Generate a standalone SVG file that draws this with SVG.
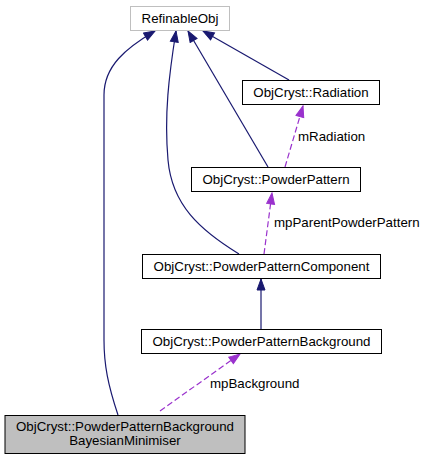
<svg xmlns="http://www.w3.org/2000/svg" width="426" height="459" viewBox="0 0 426 459">
<style>
.node rect{fill:#fff;stroke:#000;stroke-width:1}
text{font-family:"Liberation Sans",Arial,sans-serif;font-size:13.3px;fill:#000}
.c{text-anchor:middle}
.inh{fill:none;stroke:#191970;stroke-width:1.2}
.use{fill:none;stroke:#9a32cd;stroke-width:1.2;stroke-dasharray:6,3}
</style>
<defs>
<marker id="ah" markerUnits="userSpaceOnUse" markerWidth="14" markerHeight="10" viewBox="0 -5 12 10" refX="11" refY="0" orient="auto">
<path d="M0,-4 L11,0 L0,4 z" fill="#191970" stroke="#191970"/>
</marker>
<marker id="ap" markerUnits="userSpaceOnUse" markerWidth="14" markerHeight="10" viewBox="0 -5 12 10" refX="11" refY="0" orient="auto">
<path d="M0,-4 L11,0 L0,4 z" fill="#9a32cd" stroke="#9a32cd"/>
</marker>
</defs>
<rect width="426" height="459" fill="#fff"/>
<g id="connectors">
<path class="inh" marker-end="url(#ah)" d="M118,415 C108,385 104,365 104,340 L104,95 C104,66 126,48 155,31"/>
<path class="inh" marker-end="url(#ah)" d="M239,254 C200,230 172,205 168,160 C164,115 169,75 176,31"/>
<path class="inh" marker-end="url(#ah)" d="M268,167 L188,31"/>
<path class="inh" marker-end="url(#ah)" d="M289,80 L203,31"/>
<path class="inh" marker-end="url(#ah)" d="M261,329 L261,279"/>
<path class="use" marker-end="url(#ap)" d="M285,167 L303,106"/>
<path class="use" marker-end="url(#ap)" d="M264,254 L272,193"/>
<path class="use" marker-end="url(#ap)" d="M160,411 L240,354"/>
<text x="298" y="141">mRadiation</text>
<text x="274" y="227">mpParentPowderPattern</text>
<text x="210" y="388">mpBackground</text>
</g>
<g id="RefinableObj" class="node">
<rect x="130.5" y="6.5" width="99" height="24" style="stroke:#bfbfbf"/>
<text class="c" x="180" y="23">RefinableObj</text>
</g>
<g id="Radiation" class="node">
<rect x="242.5" y="80.5" width="137" height="24"/>
<text class="c" x="311" y="97">ObjCryst::Radiation</text>
</g>
<g id="PowderPattern" class="node">
<rect x="191.5" y="167.5" width="169" height="24"/>
<text class="c" x="276" y="184">ObjCryst::PowderPattern</text>
</g>
<g id="PowderPatternComponent" class="node">
<rect x="142.5" y="254.5" width="238" height="24"/>
<text class="c" x="261.5" y="271">ObjCryst::PowderPatternComponent</text>
</g>
<g id="PowderPatternBackground" class="node">
<rect x="141.5" y="329.5" width="240" height="24"/>
<text class="c" x="261.5" y="346">ObjCryst::PowderPatternBackground</text>
</g>
<g id="BayesianMinimiser" class="node">
<rect x="5" y="415.5" width="240" height="38" style="fill:#bfbfbf"/>
<text class="c" x="125" y="431">ObjCryst::PowderPatternBackground</text>
<text class="c" x="125" y="445">BayesianMinimiser</text>
</g>
</svg>
